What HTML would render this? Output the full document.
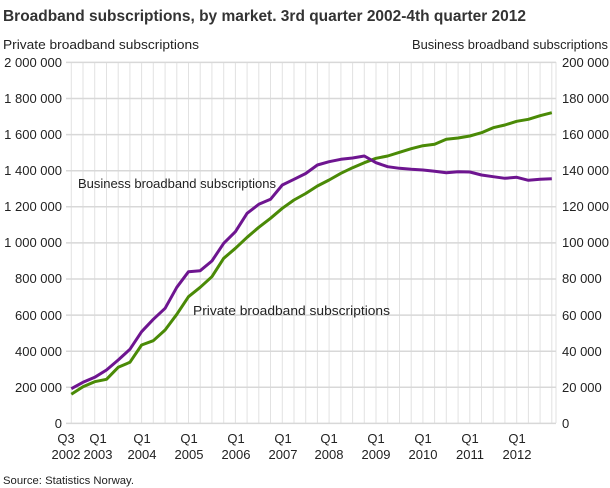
<!DOCTYPE html>
<html><head><meta charset="utf-8"><style>
body{margin:0;background:#fff;}
svg{display:block;font-family:"Liberation Sans",sans-serif;}
</style></head><body>
<svg width="610" height="488" viewBox="0 0 610 488" xmlns="http://www.w3.org/2000/svg">
<text x="3" y="21" font-size="15.5" font-weight="bold" fill="#333" textLength="523" lengthAdjust="spacingAndGlyphs">Broadband subscriptions, by market. 3rd quarter 2002-4th quarter 2012</text>
<text x="3" y="49" font-size="13" fill="#222" textLength="196" lengthAdjust="spacingAndGlyphs">Private broadband subscriptions</text>
<text x="412" y="49" font-size="13" fill="#222" textLength="196" lengthAdjust="spacingAndGlyphs">Business broadband subscriptions</text>
<g stroke="#e2e2e2" stroke-width="1">
<path d="M71.3 62V423M83 62V423M94.7 62V423M106.5 62V423M118.2 62V423M129.9 62V423M141.6 62V423M153.3 62V423M165.1 62V423M176.8 62V423M188.5 62V423M200.2 62V423M211.9 62V423M223.7 62V423M235.4 62V423M247.1 62V423M258.8 62V423M270.5 62V423M282.3 62V423M294 62V423M305.7 62V423M317.4 62V423M329.1 62V423M340.9 62V423M352.6 62V423M364.3 62V423M376 62V423M387.7 62V423M399.5 62V423M411.2 62V423M422.9 62V423M434.6 62V423M446.3 62V423M458.1 62V423M469.8 62V423M481.5 62V423M493.2 62V423M504.9 62V423M516.7 62V423M528.4 62V423M540.1 62V423M551.8 62V423M556 62V423"/>
</g>
<g stroke="#d8d8d8" stroke-width="1.5">
<path d="M66 62.4H556M66 98.5H556M66 134.6H556M66 170.7H556M66 206.8H556M66 242.9H556M66 279H556M66 315.1H556M66 351.2H556M66 387.3H556M66 423.4H556"/>
</g>
<g font-size="13" fill="#222" text-anchor="end">
<text x="62" y="67">2 000 000</text><text x="62" y="103">1 800 000</text><text x="62" y="139">1 600 000</text><text x="62" y="175">1 400 000</text><text x="62" y="211">1 200 000</text><text x="62" y="247">1 000 000</text><text x="62" y="283">800 000</text><text x="62" y="320">600 000</text><text x="62" y="356">400 000</text><text x="62" y="392">200 000</text><text x="62" y="428">0</text>
</g>
<g font-size="13" fill="#222">
<text x="562" y="67">200 000</text><text x="562" y="103">180 000</text><text x="562" y="139">160 000</text><text x="562" y="175">140 000</text><text x="562" y="211">120 000</text><text x="562" y="247">100 000</text><text x="562" y="283">80 000</text><text x="562" y="320">60 000</text><text x="562" y="356">40 000</text><text x="562" y="392">20 000</text><text x="562" y="428">0</text>
</g>
<g font-size="13" fill="#222" text-anchor="middle">
<text x="66" y="443">Q3</text><text x="66" y="459">2002</text>
<text x="98" y="443">Q1</text><text x="98" y="459">2003</text>
<text x="142" y="443">Q1</text><text x="142" y="459">2004</text>
<text x="189" y="443">Q1</text><text x="189" y="459">2005</text>
<text x="236" y="443">Q1</text><text x="236" y="459">2006</text>
<text x="283" y="443">Q1</text><text x="283" y="459">2007</text>
<text x="329" y="443">Q1</text><text x="329" y="459">2008</text>
<text x="376" y="443">Q1</text><text x="376" y="459">2009</text>
<text x="423" y="443">Q1</text><text x="423" y="459">2010</text>
<text x="470" y="443">Q1</text><text x="470" y="459">2011</text>
<text x="517" y="443">Q1</text><text x="517" y="459">2012</text>
</g>
<text x="3" y="484" font-size="11" fill="#222" textLength="131" lengthAdjust="spacingAndGlyphs">Source: Statistics Norway.</text>
<polyline fill="none" stroke="#4a8a06" stroke-width="3" stroke-linejoin="round" points="71.3,394.3 83,386.7 94.7,381.7 106.5,379.3 118.2,367.3 129.9,362.3 141.6,345 153.3,340.7 165.1,330 176.8,314.3 188.5,296.7 200.2,287.3 211.9,276.7 223.7,258.3 235.4,248.3 247.1,237.3 258.8,227.3 270.5,218.3 282.3,208.3 294,200 305.7,193.5 317.4,186 329.1,180 340.9,173.3 352.6,167.7 364.3,162.7 376,158.3 387.7,156 399.5,152.3 411.2,148.7 422.9,145.7 434.6,144.3 446.3,139.3 458.1,138 469.8,136 481.5,132.7 493.2,127.7 504.9,125 516.7,121.3 528.4,119.3 540.1,115.7 551.8,112.7"/>
<polyline fill="none" stroke="#6e1590" stroke-width="3" stroke-linejoin="round" points="71.3,388.7 83,382.3 94.7,377.3 106.5,370 118.2,360 129.9,349.3 141.6,331.7 153.3,319.3 165.1,308.3 176.8,287.3 188.5,271.7 200.2,270.7 211.9,261 223.7,243.3 235.4,231.7 247.1,213.3 258.8,204.3 270.5,199.3 282.3,185 294,179.3 305.7,173.5 317.4,165 329.1,161.7 340.9,159.3 352.6,158 364.3,156 376,162.7 387.7,166.7 399.5,168.3 411.2,169.3 422.9,170 434.6,171.3 446.3,172.7 458.1,171.7 469.8,172 481.5,175 493.2,176.7 504.9,178.3 516.7,177.3 528.4,180.3 540.1,179.3 551.8,178.7"/>
<text x="78" y="188" font-size="13" fill="#222" textLength="198" lengthAdjust="spacingAndGlyphs">Business broadband subscriptions</text>
<text x="193" y="315" font-size="13" fill="#222" textLength="197" lengthAdjust="spacingAndGlyphs">Private broadband subscriptions</text>
</svg>
</body></html>
